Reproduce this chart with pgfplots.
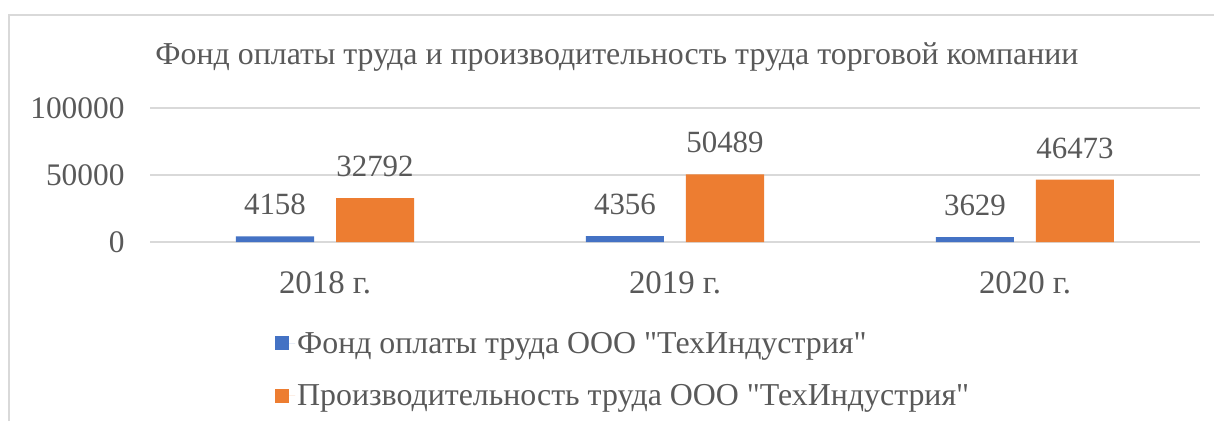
\documentclass[border=0pt]{standalone}
\usepackage{fontspec}
\setmainfont{Liberation Serif}[Ligatures=TeXOff]
\usepackage{pgfplots}
\pgfplotsset{compat=1.18}
\definecolor{txt}{HTML}{595959}
\definecolor{gridc}{HTML}{D9D9D9}
\definecolor{cblue}{HTML}{4472C4}
\definecolor{corange}{HTML}{ED7D31}
\begin{document}
\begin{tikzpicture}[x=1bp,y=1bp]
\useasboundingbox (0,0) rectangle (1214,421);
\fill[white] (0,0) rectangle (1214,421);
\draw[gridc, line width=1.5bp] (9,0) -- (9,406) -- (1214,406);
\node[font=\fontsize{32}{34}\selectfont, text=txt, anchor=center] at (617,364) {Фонд оплаты труда и производительность труда торговой компании};
\begin{axis}[
  at={(150bp,179bp)}, anchor=south west,
  scale only axis, width=1050bp, height=134bp,
  xmin=-0.5, xmax=2.5, ymin=0, ymax=100000,
  xtick={0,1,2}, xticklabels={2018 г., 2019 г., 2020 г.},
  ytick={0,50000,100000}, yticklabels={0,50000,100000},
  scaled y ticks=false,
  /pgf/number format/.cd, fixed, precision=0, 1000 sep={}, assume math mode=true, /pgfplots/.cd,
  axis line style={draw=none},
  major tick length=0pt,
  ymajorgrids, grid style={gridc, line width=1.5bp},
  yticklabel style={font=\fontsize{31.5}{31.5}\selectfont, text=txt, xshift=-22bp},
  xticklabel style={font=\fontsize{33}{33}\selectfont, text=txt, yshift=-26bp},
  ybar, bar width=78bp,
  clip=false,
  nodes near coords,
  nodes near coords style={font=\fontsize{31}{31}\selectfont, text=txt, inner sep=0pt, anchor=south, yshift=21bp},
  legend style={at={(0.119,-0.655)}, anchor=north west, draw=none, fill=none,
    font=\fontsize{32}{32}\selectfont, text=txt, row sep=26bp, inner sep=0pt},
  legend cell align=left,
  legend image code/.code={\fill[#1] (0bp,-7bp) rectangle (14bp,7bp); \path (0bp,0bp) -- (20bp,0bp);},
]
\addplot[fill=cblue, draw=none, bar shift=-50bp] coordinates {(0,4158) (1,4356) (2,3629)};
\addplot[fill=corange, draw=none, bar shift=50bp] coordinates {(0,32792) (1,50489) (2,46473)};
\legend{Фонд оплаты труда ООО "ТехИндустрия", Производительность труда ООО "ТехИндустрия"}
\end{axis}
\end{tikzpicture}
\end{document}
